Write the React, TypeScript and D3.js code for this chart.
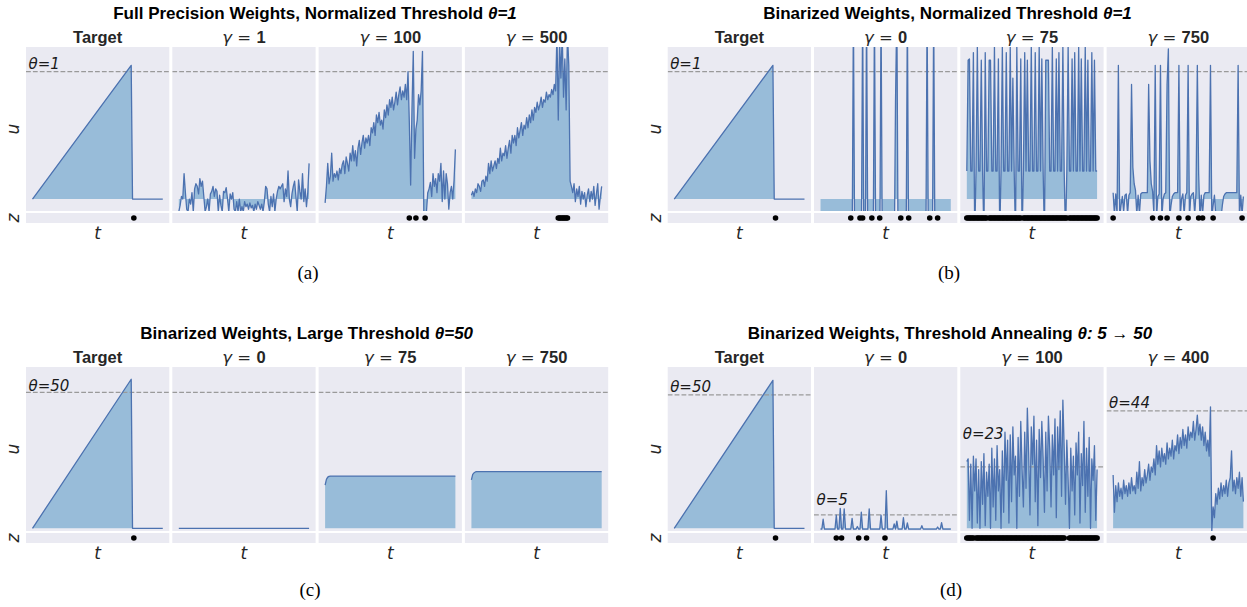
import React from "react";
import * as d3 from "d3";

// time index of the simulated traces (100 steps)
const steps = d3.range(100);

// ---------- (a) full precision weights, theta = 1 ----------
const aGammas = [1, 100, 500];
const aTargetT = [0, 75, 76, 99];
const aTargetU = [0, 1.05, 0, 0];
const aGamma1 = [
  -0.1, -0.05, 0.02, 0.0, 0.2, 0.05, -0.08, -0.1, 0.0, -0.04,
  0.05, -0.1, 0.08, 0.12, 0.1, 0.04, 0.16, 0.1, 0.14, 0.02,
  -0.1, -0.06, 0.0, -0.1, 0.04, 0.06, 0.1, 0.02, 0.08, 0.06,
  -0.1, 0.03, -0.05, -0.1, 0.06, 0.05, 0.09, 0.0, -0.1, 0.04,
  0.0, 0.05, -0.08, -0.1, -0.02, -0.1, 0.0, -0.1, -0.06, -0.1,
  -0.02, -0.06, -0.04, -0.08, -0.03, -0.07, -0.05, -0.1, -0.04, -0.08,
  -0.02, -0.05, -0.08, -0.04, -0.1, -0.02, 0.1, 0.08, -0.04, -0.1,
  0.02, -0.06, 0.04, -0.1, 0.0, 0.06, 0.1, 0.08, 0.1, 0.12,
  -0.02, 0.08, 0.02, 0.22, 0.0, -0.06, 0.04, 0.1, 0.14, 0.02,
  -0.1, 0.15, 0.06, 0.0, 0.2, -0.02, 0.08, -0.06, 0.05, 0.28,
];
const aGamma100 = [
  -0.03, 0.1, 0.28, 0.12, 0.18, 0.36, 0.14, 0.2, 0.17, 0.22,
  0.15, 0.24, 0.2, 0.27, 0.3, 0.2, 0.33, 0.28, 0.22, 0.36,
  0.3, 0.42, 0.3, 0.38, 0.26, 0.4, 0.46, 0.35, 0.44, 0.5,
  0.4, 0.48, 0.44, 0.5, 0.42, 0.56, 0.52, 0.6, 0.5, 0.66,
  0.6, 0.68, 0.58, 0.62, 0.55, 0.7, 0.64, 0.74, 0.66, 0.78,
  0.72, 0.8, 0.7, 0.76, 0.84, 0.74, 0.82, 0.88, 0.78, 0.85,
  0.8, 0.9, 0.78, 1.0, 0.6, 0.11, 0.7, 1.16, 0.32, 0.55,
  0.62, 0.82, 0.74, 0.85, 1.16, -0.1, -0.1, -0.1, 0.05, 0.08,
  0.13, 0.02, 0.2, 0.1, 0.16, 0.05, 0.2, 0.14, 0.28, -0.02,
  0.22, 0.0, 0.2, 0.12, -0.08, 0.05, 0.1, 0.0, 0.15, 0.39,
];
const aGamma500 = [
  0.03, 0.06, 0.02, 0.08, 0.05, 0.12, 0.1, 0.06, 0.14, 0.15,
  0.1, 0.18, 0.14, 0.28, 0.2, 0.3, 0.22, 0.26, 0.3, 0.24,
  0.32, 0.28, 0.4, 0.3, 0.36, 0.34, 0.42, 0.32, 0.4, 0.46,
  0.36, 0.5, 0.44, 0.5, 0.42, 0.56, 0.48, 0.54, 0.6, 0.5,
  0.58, 0.55, 0.64, 0.56, 0.66, 0.6, 0.7, 0.62, 0.72, 0.68,
  0.76, 0.7, 0.74, 0.8, 0.72, 0.78, 0.76, 0.84, 0.78, 0.82,
  0.8, 0.86, 0.82, 0.9, 0.85, 1.3, 0.62, 1.25, 0.95, 1.3,
  0.8, 1.1, 0.7, 1.3, 1.05, 0.14, 0.1, 0.05, 0.12, -0.02,
  0.08, 0.02, 0.1, -0.04, 0.06, 0.0, 0.05, -0.06, 0.03, 0.08,
  -0.02, 0.06, 0.0, 0.1, -0.05, 0.04, 0.12, -0.08, 0.02, 0.1,
];
const aSpikesTarget = [77];
const aSpikes1: number[] = [];
const aSpikes100 = [64, 69, 76];
const aSpikes500 = [66, 67, 68, 69, 70, 71, 72, 73];

// ---------- (b) binarized weights, theta = 1 ----------
const bGammas = [0, 75, 750];
const bGamma0 = [
  -0.5, -0.5, -0.5, -0.5, -0.5, -0.5, -0.5, -0.5, -0.5, -0.5,
  -0.5, -0.5, -0.5, -0.5, -0.5, -0.5, -0.5, -0.5, -0.5, -0.5,
  -0.5, -0.5, -0.5, -0.5, -0.5, 1.5, -0.5, -0.5, -0.5, -0.5,
  -0.5, -0.5, 1.5, -0.5, -0.5, 1.5, -0.5, -0.5, -0.5, -0.5,
  -0.5, 1.5, -0.5, -0.5, -0.5, -0.5, 1.5, -0.5, -0.5, -0.5,
  -0.5, -0.5, -0.5, -0.5, -0.5, -0.5, -0.5, 0.77, 1.5, -0.5,
  -0.5, -0.5, -0.5, -0.5, -0.5, -0.5, 1.5, -0.5, -0.5, -0.5,
  -0.5, -0.5, -0.5, -0.5, -0.5, -0.5, -0.5, -0.5, -0.5, -0.5,
  -0.5, 1.5, -0.5, -0.5, -0.5, -0.5, 1.5, -0.5, -0.5, -0.5,
  -0.5, -0.5, -0.5, -0.5, -0.5, -0.5, -0.5, -0.5, -0.5, -0.5,
];
const bGamma75 = [
  0.22, 1.09, 1.1, 0.22, 0.22, 1.15, -0.3, 0.22, 1.2, 0.22,
  0.22, 1.09, 0.22, -0.3, 1.15, 0.22, 0.22, 1.09, 1.09, 0.22,
  0.22, 1.2, 0.22, 0.22, 1.1, -0.3, 0.22, 1.2, 0.22, 0.22,
  1.15, 0.22, 0.22, 1.2, 0.22, 0.95, 0.22, -0.3, 1.2, 0.22,
  0.22, 1.1, -0.3, 0.22, 1.15, 0.22, 1.09, 0.22, 0.22, 1.2,
  0.22, 0.22, 1.15, 0.22, 0.22, 1.2, 0.22, 1.1, 0.22, -0.3,
  1.09, 1.09, 1.09, 0.22, 0.22, 1.2, 0.22, 0.22, 1.1, 0.22,
  1.15, 0.22, 0.22, 1.2, 0.22, -0.3, 0.22, 1.2, 0.22, 0.22,
  1.1, 0.22, 1.15, 0.22, 0.22, 1.2, 0.22, 1.1, 0.22, 0.22,
  1.2, 0.22, 1.09, 0.22, 0.22, 1.15, 0.22, 1.09, 0.22, 0.22,
];
const bGamma750 = [
  0.05, -0.12, 0.04, -0.12, 1.05, -0.15, -0.05, 0.02, -0.1, 0.03,
  0.04, -0.12, 0.03, 0.05, 0.9, 0.25, 0.12, 0.07, -0.12, 0.03,
  -0.12, 0.04, 0.05, 0.05, 0.05, 0.05, 0.05, 0.9, 0.3, 0.12,
  0.06, -0.12, 1.05, -0.15, 0.02, 0.04, 1.05, -0.15, 0.0, 0.04,
  0.05, 0.9, 1.18, -0.15, -0.05, 0.02, 0.04, 0.05, 0.05, 0.05,
  1.05, -0.15, 0.0, 0.04, -0.12, 0.03, 0.05, 1.05, -0.15, 0.02,
  0.04, 0.05, -0.12, 0.05, 1.05, 0.2, -0.15, 0.03, -0.12, 0.03,
  0.05, 0.05, 0.05, 0.05, 1.05, -0.15, -0.05, 0.03, -0.12, -0.15,
  -0.15, -0.15, -0.15, -0.05, 0.02, 0.04, 0.05, 0.05, 0.05, 0.05,
  0.05, 0.05, 0.05, 0.05, 0.05, 1.05, -0.15, 0.03, -0.12, 0.02,
];
const bSpikes0 = [23, 30, 32, 39, 45, 61, 67, 83, 89];
const bSpikes75 =
  "1111111111111111011111111111111111111111110111111111111111111111111111111111101111111111111111111111";
const bSpikes750 = [0, 30, 36, 41, 50, 57, 65, 68, 76, 98];

// ---------- (c) binarized weights, large threshold theta = 50 ----------
const cGammas = [0, 75, 750];
const cTargetU = [0, 54.8, 0, 0];
const cFlatT = [0, 99];
const cGamma0 = [0, 0];
const cRiseT = [0, 1, 2, 3, 4, 99];
const cGamma75 = [15.9, 18.0, 18.8, 19.1, 19.2, 19.2];
const cGamma750 = [17.8, 19.8, 20.4, 20.7, 20.8, 20.8];

// ---------- (d) binarized weights, threshold annealing 5 -> 50 ----------
const dGammas = [0, 100, 400];
const dThetas = [50, 5, 23, 44];
const dTargetU = [0, 55.4, 0, 0];
const dGamma0 = [
  -0.3, -0.3, 3.4, -0.3, -0.3, -0.3, -0.3, -0.3, -0.3, -0.3,
  -0.3, -0.3, 4.9, -0.3, -0.3, 7.5, -0.3, -0.3, 7.3, -0.3,
  -0.3, -0.3, -0.3, -0.3, 3.7, -0.3, -0.3, -0.3, 0.7, -0.3,
  -0.3, 6.1, -0.3, -0.3, -0.3, -0.3, -0.3, 7.3, -0.3, -0.3,
  -0.3, -0.3, -0.3, -0.3, -0.3, -0.3, 4.9, -0.3, -0.3, -0.3,
  14.1, -0.3, -0.3, -0.3, -0.3, -0.3, 1.7, -0.3, 2.7, -0.3,
  -0.3, -0.3, -0.3, 4.0, -0.3, -0.3, 2.0, -0.3, -0.3, -0.3,
  -0.3, -0.3, -0.3, -0.3, -0.3, -0.3, -0.3, 1.0, -0.3, -0.3,
  -0.3, -0.3, -0.3, -0.3, -0.3, -0.3, -0.3, -0.3, -0.3, 0.5,
  -0.3, -0.3, 2.1, -0.3, -0.3, -0.3, -0.3, -0.3, -0.3, -0.3,
];
const dGamma100 = [
  25, 26, 3, 24, 0, 27, 14, 26, 2, 22,
  0, 25, 9, 28, 1, 21, 12, 24, 0, 30,
  8, 26, 3, 31, 14, 22, 0, 29, 6, 36,
  18, 33, 2, 35, 10, 38, 20, 27, 0, 34,
  12, 40, 22, 8, 36, 15, 45, 28, 5, 38,
  24, 42, 10, 33, 1, 37, 19, 40, 26, 6,
  36, 14, 42, 30, 8, 35, 20, 41, 4, 38,
  22, 44, 12, 48, 30, 9, 33, 18, 0, 30,
  14, 27, 5, 32, 20, 36, 2, 28, 16, 40,
  6, 30, 12, 34, 0, 26, 18, 31, 3, 22,
];
const dGamma400 = [
  20, 6, 16, 10, 17, 12, 15, 11, 18, 13,
  16, 12, 17, 13, 19, 14, 16, 13, 21, 15,
  25, 14, 19, 16, 22, 17, 20, 24, 18, 23,
  21, 26, 20, 31, 24, 29, 23, 30, 25, 28,
  24, 32, 26, 30, 27, 33, 26, 31, 29, 35,
  28, 34, 30, 37, 31, 35, 30, 38, 33, 36,
  34, 40, 33, 37, 42.4, 35, 39, 33, 38, 31,
  36, 29, 33, 27, 45.5, -1, 8, 4, 13, 9,
  15, 11, 17, 12, 16, 13, 18, 12, 17, 19,
  29, 14, 18, 13, 19, 15, 21, 12, 19, 10,
];
const dSpikes0 = [12, 16, 29, 35, 49];
const dSpikes100 =
  "1111110111111111111111111111111111111111111111111111111111111111111111111110001111111111111111111111";
const dSpikes400 = [76];

const targetSpikes = [77];

const fromBits = (s: string) =>
  s.split("").flatMap((c, i) => (c === "1" ? [i] : []));

// ---------- layout ----------
const W = 1247;
const H = 607;
const PANEL_W = 143.3;
const PANEL_STEP = 146.3;
const U_H = 164;
const Z_GAP = 2;
const Z_H = 10;
const BG = "#EAEAF2";
const LINE = "#4C72B0";
const FILL = "#1f77b4";
const SANS = "'Liberation Sans', Arial, sans-serif";
const DV = "'DejaVu Sans', sans-serif";

type PanelSpec = {
  gamma: number | null;
  t: number[];
  u: number[];
  dots: number[];
  theta: number;
  label?: string;
  labelDy?: number;
};

type GroupSpec = {
  key: string;
  left: number;
  top: number;
  yDomain: [number, number];
  titleX: number;
  title: string;
  titleMath: string;
  caption: string;
  captionX: number;
  captionY: number;
  panels: PanelSpec[];
};

const groups: GroupSpec[] = [
  {
    key: "a",
    left: 26,
    top: 47,
    yDomain: [-0.094, 1.194],
    titleX: 315,
    title: "Full Precision Weights, Normalized Threshold ",
    titleMath: "θ=1",
    caption: "(a)",
    captionX: 308,
    captionY: 279,
    panels: [
      { gamma: null, t: aTargetT, u: aTargetU, dots: aSpikesTarget, theta: 1, label: "θ=1", labelDy: 3 },
      { gamma: aGammas[0], t: steps, u: aGamma1, dots: aSpikes1, theta: 1 },
      { gamma: aGammas[1], t: steps, u: aGamma100, dots: aSpikes100, theta: 1 },
      { gamma: aGammas[2], t: steps, u: aGamma500, dots: aSpikes500, theta: 1 },
    ],
  },
  {
    key: "b",
    left: 667.7,
    top: 47,
    yDomain: [-0.094, 1.194],
    titleX: 947.5,
    title: "Binarized Weights, Normalized Threshold ",
    titleMath: "θ=1",
    caption: "(b)",
    captionX: 949,
    captionY: 279,
    panels: [
      { gamma: null, t: aTargetT, u: aTargetU, dots: targetSpikes, theta: 1, label: "θ=1", labelDy: 3 },
      { gamma: bGammas[0], t: steps, u: bGamma0, dots: bSpikes0, theta: 1 },
      { gamma: bGammas[1], t: steps, u: bGamma75, dots: fromBits(bSpikes75), theta: 1 },
      { gamma: bGammas[2], t: steps, u: bGamma750, dots: bSpikes750, theta: 1 },
    ],
  },
  {
    key: "c",
    left: 26,
    top: 367,
    yDomain: [-1.0, 59.3],
    titleX: 306.7,
    title: "Binarized Weights, Large Threshold ",
    titleMath: "θ=50",
    caption: "(c)",
    captionX: 310,
    captionY: 596,
    panels: [
      { gamma: null, t: aTargetT, u: cTargetU, dots: targetSpikes, theta: 50, label: "θ=50", labelDy: 1.5 },
      { gamma: cGammas[0], t: cFlatT, u: cGamma0, dots: [], theta: 50 },
      { gamma: cGammas[1], t: cRiseT, u: cGamma75, dots: [], theta: 50 },
      { gamma: cGammas[2], t: cRiseT, u: cGamma750, dots: [], theta: 50 },
    ],
  },
  {
    key: "d",
    left: 667.7,
    top: 367,
    yDomain: [-1.0, 60.4],
    titleX: 950,
    title: "Binarized Weights, Threshold Annealing ",
    titleMath: "θ: 5 → 50",
    caption: "(d)",
    captionX: 951,
    captionY: 596,
    panels: [
      { gamma: null, t: aTargetT, u: dTargetU, dots: targetSpikes, theta: dThetas[0], label: "θ=50", labelDy: 3 },
      { gamma: dGammas[0], t: steps, u: dGamma0, dots: dSpikes0, theta: dThetas[1], label: "θ=5", labelDy: 9.5 },
      { gamma: dGammas[1], t: steps, u: dGamma100, dots: fromBits(dSpikes100), theta: dThetas[2], label: "θ=23", labelDy: 28 },
      { gamma: dGammas[2], t: steps, u: dGamma400, dots: dSpikes400, theta: dThetas[3], label: "θ=44", labelDy: 3 },
    ],
  },
];

function Panel({ g, p, i }: { g: GroupSpec; p: PanelSpec; i: number }) {
  const x0 = g.left + i * PANEL_STEP;
  const top = g.top;
  const x = d3.scaleLinear().domain([-4.95, 103.95]).range([x0, x0 + PANEL_W]);
  const y = d3.scaleLinear().domain(g.yDomain).range([top + U_H, top]);
  const pts: [number, number][] = p.t.map((t, k) => [t, p.u[k]]);
  const area = d3
    .area<[number, number]>()
    .x((d) => x(d[0]))
    .y0(y(0))
    .y1((d) => y(d[1]));
  const line = d3
    .line<[number, number]>()
    .x((d) => x(d[0]))
    .y((d) => y(d[1]));
  const clipId = `clip-${g.key}-${i}`;
  const zTop = top + U_H + Z_GAP;
  const cx = x0 + PANEL_W / 2;
  const yTheta = y(p.theta);

  return (
    <g>
      <rect x={x0} y={top} width={PANEL_W} height={U_H} fill={BG} />
      <rect x={x0} y={zTop} width={PANEL_W} height={Z_H} fill={BG} />
      <clipPath id={clipId}>
        <rect x={x0} y={top} width={PANEL_W} height={U_H} />
      </clipPath>
      <g clipPath={`url(#${clipId})`}>
        <path d={area(pts) || ""} fill={FILL} fillOpacity={0.4} />
        <line
          x1={x0}
          x2={x0 + PANEL_W}
          y1={yTheta}
          y2={yTheta}
          stroke="#9a9a9a"
          strokeWidth={1.2}
          strokeDasharray="4.8,2.1"
        />
        <path d={line(pts) || ""} fill="none" stroke={LINE} strokeWidth={1.3} strokeLinejoin="round" />
      </g>
      {p.label && (
        <text
          x={x0 + 2.5}
          y={yTheta - (p.labelDy || 0)}
          fontFamily={DV}
          fontStyle="italic"
          fontSize={15}
          fill="#1a1a1a"
        >
          {p.label}
        </text>
      )}
      {p.dots.map((t, k) => (
        <circle key={k} cx={x(t)} cy={zTop + Z_H / 2} r={2.8} fill="#000" />
      ))}
      <text
        x={cx}
        y={zTop + Z_H + 16}
        textAnchor="middle"
        fontFamily={DV}
        fontStyle="italic"
        fontSize={17}
        fill="#262626"
      >
        t
      </text>
      <text x={cx} y={top - 4.5} textAnchor="middle" fontSize={16.5} fill="#262626">
        {p.gamma === null ? (
          <tspan fontFamily={SANS} fontWeight="bold">
            Target
          </tspan>
        ) : (
          <>
            <tspan fontFamily={DV} fontStyle="italic">
              γ
            </tspan>
            <tspan fontFamily={DV}>{" = "}</tspan>
            <tspan fontFamily={SANS} fontWeight="bold">
              {p.gamma}
            </tspan>
          </>
        )}
      </text>
    </g>
  );
}

function Group({ g }: { g: GroupSpec }) {
  const yl = g.left - 13;
  const uMid = g.top + U_H / 2;
  const zMid = g.top + U_H + Z_GAP + Z_H / 2;
  return (
    <g>
      <text
        x={g.titleX}
        y={g.top - 28}
        textAnchor="middle"
        fontFamily={SANS}
        fontWeight="bold"
        fontSize={17}
        fill="#000"
      >
        {g.title}
        <tspan fontStyle="italic">{g.titleMath}</tspan>
      </text>
      <text
        transform={`translate(${yl},${uMid}) rotate(-90)`}
        textAnchor="middle"
        dominantBaseline="central"
        fontFamily={DV}
        fontStyle="italic"
        fontSize={17}
        fill="#262626"
      >
        u
      </text>
      <text
        transform={`translate(${yl},${zMid}) rotate(-90)`}
        textAnchor="middle"
        dominantBaseline="central"
        fontFamily={DV}
        fontStyle="italic"
        fontSize={17}
        fill="#262626"
      >
        z
      </text>
      {g.panels.map((p, i) => (
        <Panel key={i} g={g} p={p} i={i} />
      ))}
      <text
        x={g.captionX}
        y={g.captionY}
        textAnchor="middle"
        fontFamily="'Liberation Serif', 'Times New Roman', serif"
        fontSize={19}
        fill="#000"
      >
        {g.caption}
      </text>
    </g>
  );
}

export default function App() {
  return (
    <svg
      width={W}
      height={H}
      viewBox={`0 0 ${W} ${H}`}
      style={{ position: "absolute", left: 0, top: 0, background: "#fff" }}
    >
      {groups.map((g) => (
        <Group key={g.key} g={g} />
      ))}
    </svg>
  );
}
